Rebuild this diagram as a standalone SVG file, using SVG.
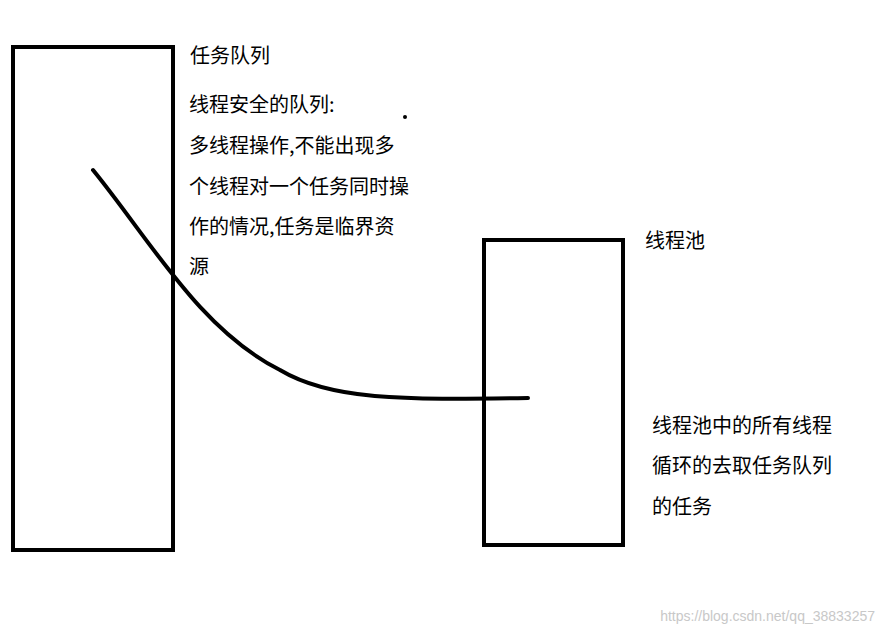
<svg xmlns="http://www.w3.org/2000/svg" width="883" height="636" viewBox="0 0 883 636">
<style>
.box{fill:none;stroke:#000;stroke-width:4}
.t{font-family:"Microsoft YaHei","Noto Sans CJK SC",sans-serif;font-size:20px;fill:#000}
</style>
<rect width="883" height="636" fill="#fff"/>
<g id="queue"><rect class="box" x="13" y="47" width="160" height="503"/>
<text class="t" x="190" y="63">任务队列</text>
<text class="t" x="189" y="112">线程安全的队列:</text>
<text class="t" x="189" y="153">多线程操作,不能出现多</text>
<text class="t" x="189" y="194">个线程对一个任务同时操</text>
<text class="t" x="189" y="234">作的情况,任务是临界资</text>
<text class="t" x="189" y="274">源</text></g>
<g id="pool"><rect class="box" x="484" y="240" width="139" height="305"/>
<text class="t" x="645" y="248">线程池</text>
<text class="t" x="652" y="433">线程池中的所有线程</text>
<text class="t" x="652" y="473">循环的去取任务队列</text>
<text class="t" x="652" y="514">的任务</text></g>
<g id="connectors"><path d="M93,170 C150,240 200,330 280,370 C330,400 400,400 528,398" fill="none" stroke="#000" stroke-width="4" stroke-linecap="round"/></g>
<circle cx="405" cy="117" r="2" fill="#000"/>
<text x="875" y="621" text-anchor="end" font-family="Liberation Sans,sans-serif" font-size="14" fill="#c8c8c8">https://blog.csdn.net/qq_38833257</text>
</svg>
